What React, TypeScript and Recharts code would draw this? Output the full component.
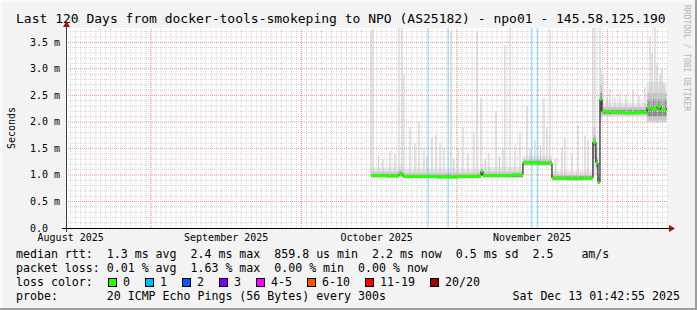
import React from "react";
import { ComposedChart, XAxis, YAxis, Area, Line, ReferenceLine } from "recharts";

// x axis is "days since start of window" (Aug 15 01:42 -> Dec 13 01:42)
const monthLabels = ["August 2025", "September 2025", "October 2025", "November 2025"];
const monthLabelDays = [0.93, 31.93, 61.93, 92.93];
const monthStartDays = [16.93, 46.93, 77.93, 107.93];

const yTicks = [0, 0.5, 1, 1.5, 2, 2.5, 3, 3.5];
const yTickLabels = ["0.0", "0.5 m", "1.0 m", "1.5 m", "2.0 m", "2.5 m", "3.0 m", "3.5 m"];

// median rtt (ms)
const medianDays = [60.79, 62.5, 64.0, 66.37, 67.17, 70.0, 74.0, 78.0, 81.9, 82.72, 83.12, 86.0, 89.0, 91.09, 94.0, 96.87, 100.0, 103.0, 105.04, 105.64, 106.04, 106.44, 106.84, 109.0, 111.4, 113.5, 115.81, 116.8, 117.8, 118.6, 119.7];
const medianVals = [0.99, 0.99, 0.98, 1.02, 0.97, 0.97, 0.96, 0.97, 0.98, 1.07, 0.99, 0.99, 1.0, 1.23, 1.22, 0.94, 0.93, 0.94, 1.62, 1.23, 0.86, 2.43, 2.19, 2.18, 2.17, 2.18, 2.27, 2.24, 2.29, 2.23, 2.26];

// smoke bands
const smokeDays = [60.79, 66.37, 67.17, 82.72, 83.12, 91.09, 96.87, 105.04, 105.64, 106.04, 106.44, 106.84, 115.81, 119.7];
const lightLo = [0.94, 0.96, 0.93, 0.96, 0.94, 1.17, 0.89, 1.0, 1.0, 0.82, 2.0, 2.1, 1.98, 1.98];
const lightHi = [1.14, 1.18, 1.12, 1.2, 1.15, 1.36, 1.08, 1.9, 1.5, 1.0, 3.0, 2.36, 2.75, 2.75];
const midLo = [0.95, 0.98, 0.94, 0.98, 0.95, 1.18, 0.9, 1.3, 1.1, 0.83, 2.1, 2.12, 2.02, 2.02];
const midHi = [1.06, 1.1, 1.04, 1.12, 1.06, 1.3, 1.0, 1.75, 1.35, 0.95, 2.7, 2.28, 2.55, 2.55];
const darkLo = [0.96, 0.99, 0.95, 1.0, 0.96, 1.2, 0.91, 1.55, 1.15, 0.84, 2.2, 2.15, 2.1, 2.1];
const darkHi = [1.02, 1.06, 1.0, 1.09, 1.02, 1.26, 0.97, 1.7, 1.3, 0.9, 2.55, 2.23, 2.42, 2.42];

// single smoke spikes (max ping)
const spikeDays = [60.79, 61.19, 62.3, 63.19, 64.58, 65.58, 66.37, 66.97, 67.37, 68.57, 69.56, 70.36, 71.36, 71.96, 72.95, 73.75, 74.55, 75.34, 76.74, 77.3, 78.13, 79.13, 80.13, 81.32, 81.92, 82.72, 83.6, 84.31, 85.71, 86.4, 87.1, 87.5, 88.5, 89.5, 90.49, 91.89, 92.5, 93.48, 94.6, 95.28, 95.87, 96.47, 97.6, 98.86, 99.46, 100.86, 102.05, 103.45, 104.05, 105.04, 105.44, 106.44, 107.04, 107.8, 108.43, 109.4, 110.42, 111.6, 113.02, 114.2, 115.41, 116.41, 116.81, 117.41, 117.81, 118.41, 118.8, 119.2];
const spikeTops = [3.7, 3.75, 1.35, 1.3, 1.45, 1.4, 3.77, 3.77, 2.9, 1.9, 1.6, 2.0, 1.5, 1.35, 1.7, 1.75, 1.6, 1.5, 3.7, 1.3, 1.5, 1.9, 1.4, 1.8, 3.7, 2.45, 1.3, 1.4, 2.2, 1.35, 1.5, 3.45, 3.77, 1.57, 1.8, 2.3, 1.5, 1.65, 1.55, 2.45, 1.9, 3.75, 1.3, 1.5, 1.7, 1.4, 1.94, 1.75, 1.65, 3.77, 3.77, 3.77, 2.9, 2.45, 2.6, 2.45, 2.55, 2.5, 2.6, 2.5, 2.65, 3.6, 3.3, 3.77, 3.1, 2.9, 3.0, 2.7];

// loss (1/20) columns
const lossDays = [72.2, 76.2, 92.8, 94.0];

const lossColors = ["#26ff00", "#00b8ff", "#0059ff", "#7e00ff", "#ff00ff", "#ff5500", "#ff0000", "#a10000"];
const lossLabels = ["0", "1", "2", "3", "4-5", "6-10", "11-19", "20/20"];

const Y_MAX = 3.77;
const MONO = "'DejaVu Sans Mono', monospace";

const medianData = medianDays.map((d, i) => ({ d, v: medianVals[i] }));
const smokeData = smokeDays.map((d, i) => ({
  d,
  light: [lightLo[i], lightHi[i]],
  mid: [midLo[i], midHi[i]],
  dark: [darkLo[i], darkHi[i]],
}));
const greenData: { d: number; v: number | null }[] = [];
for (let i = 0; i < medianDays.length - 1; i++) {
  greenData.push({ d: medianDays[i], v: medianVals[i] });
  greenData.push({ d: medianDays[i + 1], v: medianVals[i] });
  greenData.push({ d: medianDays[i + 1], v: null });
}
const medianAt = (day: number) => {
  let v = medianVals[0];
  medianDays.forEach((d, i) => {
    if (d <= day) v = medianVals[i];
  });
  return v;
};

const minorDays: number[] = [];
for (let k = 0; k < 120; k++) minorDays.push(0.93 + k);
const minorVals: number[] = [];
for (let k = 1; k <= 37; k++) if (k % 5 !== 0) minorVals.push(k / 10);

const MonthTick = (p: any) => (
  <text x={p.x} y={p.y + 13} textAnchor="middle" fontFamily={MONO} fontSize={10} fill="#000">
    {monthLabels[p.index]}
  </text>
);

const ValueTick = (p: any) => (
  <text x={p.x - 36} y={p.y + 3.5} textAnchor="start" fontFamily={MONO} fontSize={10} fill="#000" style={{ whiteSpace: "pre" }}>
    {yTickLabels[p.index]}
  </text>
);

const legendRows = [
  "median rtt:  1.3 ms avg  2.4 ms max  859.8 us min  2.2 ms now  0.5 ms sd  2.5    am/s",
  "packet loss: 0.01 % avg  1.63 % max  0.00 % min  0.00 % now",
];

export default function App() {
  let lx = 108;
  const lossItems = lossLabels.map((l, i) => {
    const x = lx;
    lx += 30 + 7 * l.length;
    return { x, l, c: lossColors[i] };
  });

  return (
    <div style={{ position: "absolute", left: 0, top: 0, width: 697, height: 310, background: "#f3f3f3" }}>
      <div style={{ position: "absolute", left: 66, top: 28, width: 602, height: 200, background: "#fff" }} />
      <div style={{ position: "absolute", left: 0, top: 0 }}>
        <ComposedChart width={697} height={310} margin={{ top: 28, right: 29, bottom: 52, left: 10 }}>
          <XAxis
            type="number"
            dataKey="d"
            domain={[0, 120]}
            ticks={monthLabelDays}
            interval={0}
            tick={MonthTick}
            tickSize={0}
            tickMargin={0}
            axisLine={false}
            height={30}
            allowDataOverflow
          />
          <YAxis
            type="number"
            domain={[0, Y_MAX]}
            ticks={yTicks}
            interval={0}
            tick={ValueTick}
            tickSize={0}
            tickMargin={0}
            axisLine={false}
            width={56}
            allowDataOverflow
          />
          {minorDays.map((d) => (
            <ReferenceLine key={`mx${d}`} x={d} stroke="#d2d2d2" strokeDasharray="1 1" ifOverflow="hidden" />
          ))}
          {minorVals.map((v) => (
            <ReferenceLine key={`my${v}`} y={v} stroke="#d2d2d2" strokeDasharray="1 1" ifOverflow="hidden" />
          ))}
          {monthStartDays.map((d) => (
            <ReferenceLine key={`Mx${d}`} x={d} stroke="#f09090" strokeDasharray="1 1" ifOverflow="hidden" />
          ))}
          {yTicks.slice(1).map((v) => (
            <ReferenceLine key={`My${v}`} y={v} stroke="#f09090" strokeDasharray="1 1" ifOverflow="hidden" />
          ))}
          <Area data={smokeData} dataKey="light" type="stepAfter" stroke="none" fill="#e6e6e6" fillOpacity={0.9} isAnimationActive={false} />
          {spikeDays.map((d, i) => (
            <ReferenceLine
              key={`s${i}`}
              segment={[{ x: d, y: medianAt(d) }, { x: d, y: spikeTops[i] }]}
              stroke="#c8c8c8"
              strokeWidth={1}
              ifOverflow="hidden"
            />
          ))}
          <Area data={smokeData} dataKey="mid" type="stepAfter" stroke="none" fill="#c4c4c4" fillOpacity={0.9} isAnimationActive={false} />
          <Area data={smokeData} dataKey="dark" type="stepAfter" stroke="none" fill="#8a8a8a" fillOpacity={1} isAnimationActive={false} />
          {lossDays.map((d) => (
            <ReferenceLine key={`l${d}`} x={d} stroke="#00b8ff" strokeOpacity={0.35} strokeWidth={1.5} ifOverflow="hidden" />
          ))}
          <Line data={medianData} dataKey="v" type="stepAfter" stroke="#000" strokeWidth={1} dot={false} isAnimationActive={false} />
          <Line data={greenData} dataKey="v" type="linear" stroke="#26ff00" strokeWidth={3} dot={false} connectNulls={false} isAnimationActive={false} />
        </ComposedChart>
      </div>
      <svg width={697} height={310} style={{ position: "absolute", left: 0, top: 0, pointerEvents: "none" }}>
        <rect x={1} y={1} width={695} height={308} fill="none" stroke="#fafafa" strokeWidth={2} />
        <line x1={696} y1={0} x2={696} y2={310} stroke="#9e9e9e" strokeWidth={2} />
        <line x1={0} y1={309} x2={697} y2={309} stroke="#9e9e9e" strokeWidth={2} />
        <text x={16} y={23} fontFamily={MONO} fontSize={13} fill="#000">
          Last 120 Days from docker-tools-smokeping to NPO (AS25182) - npo01 - 145.58.125.190
        </text>
        <text x={684} y={5} transform="rotate(90 684 5)" fontFamily={MONO} fontSize={8} fill="#b4b4b4">
          RRDTOOL / TOBI OETIKER
        </text>
        <text x={15} y={128} transform="rotate(-90 15 128)" textAnchor="middle" fontFamily={MONO} fontSize={10} fill="#000">
          Seconds
        </text>
        {/* axes */}
        <line x1={62} y1={228.5} x2={670} y2={228.5} stroke="#000" strokeWidth={1} />
        <polygon points="669,225 675,228.5 669,232" fill="#a01010" />
        <line x1={66.5} y1={232} x2={66.5} y2={26} stroke="#404040" strokeWidth={1} />
        <polygon points="63,27 66.5,21 70,27" fill="#a01010" />
        {/* legend */}
        {legendRows.map((r, i) => (
          <text key={i} x={16} y={258 + i * 14} fontFamily={MONO} fontSize={11.6} fill="#000" style={{ whiteSpace: "pre" }}>
            {r}
          </text>
        ))}
        <text x={16} y={286} fontFamily={MONO} fontSize={11.6} fill="#000">loss color:</text>
        {lossItems.map((it) => (
          <g key={it.l}>
            <rect x={it.x + 0.5} y={278.5} width={8} height={8} fill={it.c} stroke="#000" strokeWidth={1} />
            <text x={it.x + 15} y={286} fontFamily={MONO} fontSize={11.6} fill="#000">{it.l}</text>
          </g>
        ))}
        <text x={16} y={300} fontFamily={MONO} fontSize={11.6} fill="#000" style={{ whiteSpace: "pre" }}>
          {"probe:       20 ICMP Echo Pings (56 Bytes) every 300s"}
        </text>
        <text x={680} y={300} textAnchor="end" fontFamily={MONO} fontSize={11.6} fill="#000">
          Sat Dec 13 01:42:55 2025
        </text>
      </svg>
    </div>
  );
}
